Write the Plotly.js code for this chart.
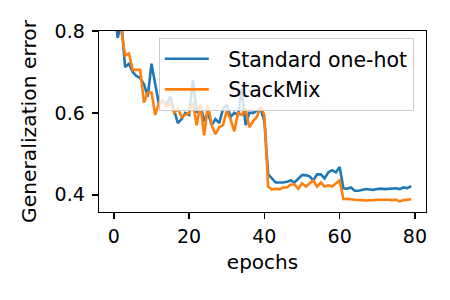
<!DOCTYPE html>
<html>
<head>
<meta charset="utf-8">
<script src="https://cdn.plot.ly/plotly-3.0.1.min.js"></script>
<style>html,body{margin:0;padding:0;background:#fff;}#chart{width:450px;height:300px;}</style>
</head>
<body>
<div id="chart"></div>
<script>
const epochs = Array.from({length: 80}, (_, i) => i);
const standardOneHot = [0.88,0.783,0.82,0.712,0.72,0.70,0.69,0.685,0.67,0.64,
  0.72,0.67,0.62,0.63,0.62,0.64,0.61,0.575,0.585,0.60,
  0.595,0.68,0.60,0.62,0.58,0.60,0.57,0.585,0.575,0.61,
  0.62,0.59,0.60,0.595,0.66,0.57,0.60,0.60,0.605,0.61,
  0.58,0.45,0.44,0.43,0.43,0.43,0.432,0.435,0.43,0.44,
  0.448,0.448,0.445,0.435,0.45,0.45,0.44,0.455,0.46,0.455,
  0.468,0.416,0.415,0.418,0.41,0.41,0.412,0.414,0.413,0.412,
  0.414,0.415,0.414,0.415,0.415,0.416,0.414,0.418,0.416,0.421];
const stackMix = [0.9,0.84,0.80,0.74,0.745,0.705,0.705,0.705,0.625,0.65,
  0.65,0.595,0.625,0.63,0.615,0.625,0.60,0.61,0.59,0.595,
  0.60,0.625,0.57,0.62,0.545,0.62,0.57,0.548,0.565,0.57,
  0.605,0.585,0.555,0.60,0.595,0.61,0.565,0.58,0.59,0.615,
  0.595,0.42,0.413,0.415,0.413,0.418,0.418,0.425,0.425,0.415,
  0.428,0.42,0.428,0.435,0.42,0.43,0.42,0.423,0.42,0.428,
  0.435,0.39,0.39,0.389,0.388,0.388,0.387,0.386,0.386,0.387,
  0.388,0.388,0.389,0.388,0.387,0.388,0.384,0.387,0.388,0.389];
const seriesNames = ["Standard one-hot", "StackMix"];
const xTicks = [0, 20, 40, 60, 80];
const yTicks = [0.4, 0.6, 0.8];

const pad = "\u2002\u2009";
const traces = [
  {x: epochs, y: standardOneHot, name: pad + seriesNames[0], mode: "lines", legendgroup: "a",
   line: {color: "#1f77b4", width: 2.6}},
  {x: epochs, y: stackMix, name: pad + seriesNames[1], mode: "lines", legendgroup: "b",
   line: {color: "#ff7f0e", width: 2.6}}
];
const axisCommon = {
  showline: true, mirror: true, linecolor: "#000", linewidth: 1.4,
  ticks: "outside", ticklen: 6, tickwidth: 1.4, tickcolor: "#000",
  showgrid: false, zeroline: false
};
const layout = {
  width: 450, height: 300,
  margin: {l: 99, r: 24, t: 31, b: 88},
  paper_bgcolor: "#fff", plot_bgcolor: "#fff",
  font: {family: "DejaVu Sans", size: 19, color: "#000"},
  xaxis: Object.assign({}, axisCommon, {
    range: [-3.95, 82.95], tickvals: xTicks, ticklabelstandoff: 1,
    title: {text: "epochs", standoff: 8, font: {family: "DejaVu Sans", size: 20, color: "#000"}}
  }),
  yaxis: Object.assign({}, axisCommon, {
    range: [0.358, 0.8], tickvals: yTicks, tickformat: ".1f", ticklabelstandoff: 3,
    title: {text: "Generalization error", standoff: 12, font: {family: "DejaVu Sans", size: 20.3, color: "#000"}}
  }),
  showlegend: true,
  legend: {
    x: 0.183, y: 0.962, xanchor: "left", yanchor: "top",
    bgcolor: "rgba(255,255,255,0.8)", bordercolor: "#cccccc", borderwidth: 1,
    traceorder: "grouped", tracegroupgap: 1, itemwidth: 44,
    font: {family: "DejaVu Sans", size: 20.5, color: "#000"}
  }
};
Plotly.newPlot("chart", traces, layout, {displayModeBar: false, staticPlot: true});
</script>
</body>
</html>
